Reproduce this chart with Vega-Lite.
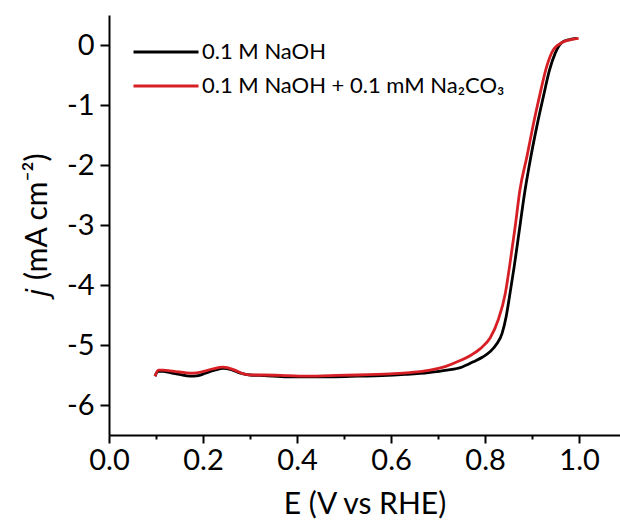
{
  "$schema": "https://vega.github.io/schema/vega-lite/v6.json",
  "autosize": {"type": "none"},
  "width": 511,
  "height": 420,
  "padding": {"left": 109, "top": 15, "right": 0, "bottom": 92},
  "background": "white",
  "config": {
    "view": {"stroke": null},
    "font": "Lato",
    "axis": {
      "domainColor": "black", "domainWidth": 2, "tickColor": "black", "tickWidth": 2,
      "labelColor": "black", "titleColor": "black", "grid": false,
      "labelFont": "Lato", "titleFont": "Lato", "labelFontSize": 29, "titleFontSize": 30,
      "titleFontWeight": "normal"
    }
  },
  "datasets": {
    "lsv": [
      {"E": 0.098, "j": -5.52, "s": "0.1 M NaOH"},
      {"E": 0.104, "j": -5.44, "s": "0.1 M NaOH"},
      {"E": 0.115, "j": -5.44, "s": "0.1 M NaOH"},
      {"E": 0.13, "j": -5.46, "s": "0.1 M NaOH"},
      {"E": 0.15, "j": -5.49, "s": "0.1 M NaOH"},
      {"E": 0.172, "j": -5.52, "s": "0.1 M NaOH"},
      {"E": 0.19, "j": -5.51, "s": "0.1 M NaOH"},
      {"E": 0.205, "j": -5.47, "s": "0.1 M NaOH"},
      {"E": 0.225, "j": -5.42, "s": "0.1 M NaOH"},
      {"E": 0.243, "j": -5.39, "s": "0.1 M NaOH"},
      {"E": 0.26, "j": -5.41, "s": "0.1 M NaOH"},
      {"E": 0.28, "j": -5.47, "s": "0.1 M NaOH"},
      {"E": 0.30, "j": -5.5, "s": "0.1 M NaOH"},
      {"E": 0.33, "j": -5.51, "s": "0.1 M NaOH"},
      {"E": 0.38, "j": -5.53, "s": "0.1 M NaOH"},
      {"E": 0.43, "j": -5.53, "s": "0.1 M NaOH"},
      {"E": 0.48, "j": -5.53, "s": "0.1 M NaOH"},
      {"E": 0.53, "j": -5.52, "s": "0.1 M NaOH"},
      {"E": 0.58, "j": -5.51, "s": "0.1 M NaOH"},
      {"E": 0.63, "j": -5.49, "s": "0.1 M NaOH"},
      {"E": 0.68, "j": -5.46, "s": "0.1 M NaOH"},
      {"E": 0.719, "j": -5.42, "s": "0.1 M NaOH"},
      {"E": 0.75, "j": -5.37, "s": "0.1 M NaOH"},
      {"E": 0.775, "j": -5.28, "s": "0.1 M NaOH"},
      {"E": 0.795, "j": -5.2, "s": "0.1 M NaOH"},
      {"E": 0.811, "j": -5.11, "s": "0.1 M NaOH"},
      {"E": 0.825, "j": -4.98, "s": "0.1 M NaOH"},
      {"E": 0.836, "j": -4.81, "s": "0.1 M NaOH"},
      {"E": 0.845, "j": -4.52, "s": "0.1 M NaOH"},
      {"E": 0.852, "j": -4.19, "s": "0.1 M NaOH"},
      {"E": 0.862, "j": -3.69, "s": "0.1 M NaOH"},
      {"E": 0.873, "j": -3.08, "s": "0.1 M NaOH"},
      {"E": 0.884, "j": -2.47, "s": "0.1 M NaOH"},
      {"E": 0.896, "j": -1.92, "s": "0.1 M NaOH"},
      {"E": 0.91, "j": -1.36, "s": "0.1 M NaOH"},
      {"E": 0.924, "j": -0.86, "s": "0.1 M NaOH"},
      {"E": 0.937, "j": -0.42, "s": "0.1 M NaOH"},
      {"E": 0.949, "j": -0.14, "s": "0.1 M NaOH"},
      {"E": 0.963, "j": 0.04, "s": "0.1 M NaOH"},
      {"E": 0.98, "j": 0.09, "s": "0.1 M NaOH"},
      {"E": 0.995, "j": 0.11, "s": "0.1 M NaOH"},
      {"E": 0.098, "j": -5.52, "s": "0.1 M NaOH + 0.1 mM Na₂CO₃"},
      {"E": 0.105, "j": -5.42, "s": "0.1 M NaOH + 0.1 mM Na₂CO₃"},
      {"E": 0.115, "j": -5.42, "s": "0.1 M NaOH + 0.1 mM Na₂CO₃"},
      {"E": 0.13, "j": -5.43, "s": "0.1 M NaOH + 0.1 mM Na₂CO₃"},
      {"E": 0.15, "j": -5.45, "s": "0.1 M NaOH + 0.1 mM Na₂CO₃"},
      {"E": 0.172, "j": -5.47, "s": "0.1 M NaOH + 0.1 mM Na₂CO₃"},
      {"E": 0.19, "j": -5.46, "s": "0.1 M NaOH + 0.1 mM Na₂CO₃"},
      {"E": 0.201, "j": -5.44, "s": "0.1 M NaOH + 0.1 mM Na₂CO₃"},
      {"E": 0.22, "j": -5.4, "s": "0.1 M NaOH + 0.1 mM Na₂CO₃"},
      {"E": 0.243, "j": -5.37, "s": "0.1 M NaOH + 0.1 mM Na₂CO₃"},
      {"E": 0.265, "j": -5.41, "s": "0.1 M NaOH + 0.1 mM Na₂CO₃"},
      {"E": 0.286, "j": -5.48, "s": "0.1 M NaOH + 0.1 mM Na₂CO₃"},
      {"E": 0.31, "j": -5.5, "s": "0.1 M NaOH + 0.1 mM Na₂CO₃"},
      {"E": 0.328, "j": -5.5, "s": "0.1 M NaOH + 0.1 mM Na₂CO₃"},
      {"E": 0.38, "j": -5.51, "s": "0.1 M NaOH + 0.1 mM Na₂CO₃"},
      {"E": 0.421, "j": -5.52, "s": "0.1 M NaOH + 0.1 mM Na₂CO₃"},
      {"E": 0.47, "j": -5.51, "s": "0.1 M NaOH + 0.1 mM Na₂CO₃"},
      {"E": 0.527, "j": -5.5, "s": "0.1 M NaOH + 0.1 mM Na₂CO₃"},
      {"E": 0.598, "j": -5.48, "s": "0.1 M NaOH + 0.1 mM Na₂CO₃"},
      {"E": 0.64, "j": -5.46, "s": "0.1 M NaOH + 0.1 mM Na₂CO₃"},
      {"E": 0.683, "j": -5.42, "s": "0.1 M NaOH + 0.1 mM Na₂CO₃"},
      {"E": 0.715, "j": -5.36, "s": "0.1 M NaOH + 0.1 mM Na₂CO₃"},
      {"E": 0.747, "j": -5.26, "s": "0.1 M NaOH + 0.1 mM Na₂CO₃"},
      {"E": 0.77, "j": -5.17, "s": "0.1 M NaOH + 0.1 mM Na₂CO₃"},
      {"E": 0.79, "j": -5.06, "s": "0.1 M NaOH + 0.1 mM Na₂CO₃"},
      {"E": 0.811, "j": -4.88, "s": "0.1 M NaOH + 0.1 mM Na₂CO₃"},
      {"E": 0.828, "j": -4.58, "s": "0.1 M NaOH + 0.1 mM Na₂CO₃"},
      {"E": 0.843, "j": -4.14, "s": "0.1 M NaOH + 0.1 mM Na₂CO₃"},
      {"E": 0.853, "j": -3.64, "s": "0.1 M NaOH + 0.1 mM Na₂CO₃"},
      {"E": 0.864, "j": -3.03, "s": "0.1 M NaOH + 0.1 mM Na₂CO₃"},
      {"E": 0.874, "j": -2.42, "s": "0.1 M NaOH + 0.1 mM Na₂CO₃"},
      {"E": 0.889, "j": -1.86, "s": "0.1 M NaOH + 0.1 mM Na₂CO₃"},
      {"E": 0.903, "j": -1.31, "s": "0.1 M NaOH + 0.1 mM Na₂CO₃"},
      {"E": 0.917, "j": -0.81, "s": "0.1 M NaOH + 0.1 mM Na₂CO₃"},
      {"E": 0.931, "j": -0.36, "s": "0.1 M NaOH + 0.1 mM Na₂CO₃"},
      {"E": 0.945, "j": -0.083, "s": "0.1 M NaOH + 0.1 mM Na₂CO₃"},
      {"E": 0.967, "j": 0.055, "s": "0.1 M NaOH + 0.1 mM Na₂CO₃"},
      {"E": 0.985, "j": 0.095, "s": "0.1 M NaOH + 0.1 mM Na₂CO₃"},
      {"E": 0.999, "j": 0.11, "s": "0.1 M NaOH + 0.1 mM Na₂CO₃"}
    ]
  },
  "layer": [
    {
      "data": {"name": "lsv"},
      "mark": {"type": "line", "strokeWidth": 2.8, "interpolate": "monotone"},
      "encoding": {
        "x": {
          "field": "E", "type": "quantitative",
          "scale": {"domain": [0, 1.087], "nice": false, "zero": false},
          "axis": {
            "title": "E (V vs RHE)",
            "values": [0, 0.1, 0.2, 0.3, 0.4, 0.5, 0.6, 0.7, 0.8, 0.9, 1.0],
            "labelExpr": "round(datum.value*10) % 2 == 0 ? format(datum.value, '.1f') : ''",
            "tickSize": {"condition": {"test": "round(datum.value*10) % 2 == 0", "value": 8}, "value": 4},
            "labelPadding": 3,
            "titlePadding": 14,
            "labelFlush": false
          }
        },
        "y": {
          "field": "j", "type": "quantitative",
          "scale": {"domain": [-6.5, 0.5], "nice": false, "zero": false},
          "axis": {
            "title": "𝑗 (mA cm⁻²)",
            "values": [-6, -5, -4, -3, -2, -1, 0],
            "labelExpr": "'' + datum.value",
            "tickSize": 9,
            "labelPadding": 6,
            "titlePadding": 14
          }
        },
        "color": {
          "field": "s", "type": "nominal",
          "scale": {"domain": ["0.1 M NaOH", "0.1 M NaOH + 0.1 mM Na₂CO₃"], "range": ["#000000", "#d71f26"]},
          "legend": {
            "title": null, "orient": "none", "legendX": 23, "legendY": 21,
            "padding": 0, "symbolType": "stroke", "symbolSize": 4225, "symbolStrokeWidth": 3,
            "clipHeight": 32, "rowPadding": 2, "labelOffset": 2,
            "labelFont": "Lato", "labelFontSize": 22, "labelColor": "black", "labelLimit": 400
          }
        }
      }
    },
    {
      "mark": {"type": "rule", "color": "black", "strokeWidth": 2},
      "encoding": {"y": {"datum": 0.5, "type": "quantitative"}}
    }
  ]
}
